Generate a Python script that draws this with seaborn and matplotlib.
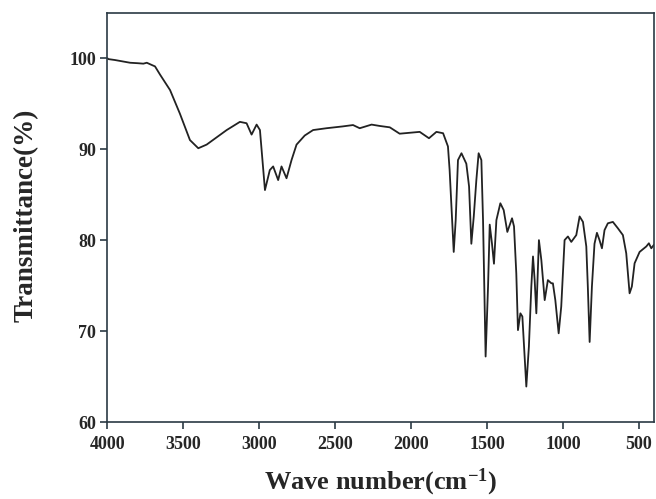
import matplotlib
matplotlib.use("Agg")
import matplotlib.pyplot as plt
import seaborn as sns
import pandas as pd

wavenumber = [4000, 3993, 3950, 3900, 3850, 3800, 3763, 3740, 3700, 3686, 3653, 3587, 3522, 3456, 3401, 3346,
              3214, 3127, 3083, 3050, 3017, 2995, 2962, 2930, 2908, 2875, 2853, 2820, 2787, 2754,
              2700, 2645, 2557, 2450, 2382, 2338, 2260, 2206, 2140, 2075, 1943, 1882, 1833, 1789,
              1757, 1746, 1734, 1719, 1706, 1691, 1668, 1636, 1618, 1603, 1587, 1570, 1555, 1537,
              1526, 1509, 1493, 1482, 1467, 1454, 1438, 1412, 1390, 1366, 1335, 1322, 1307, 1296,
              1280, 1267, 1241, 1224, 1208, 1197, 1186, 1175, 1158, 1142, 1120, 1099, 1076, 1066,
              1050, 1028, 1011, 989, 967, 945, 912, 890, 868, 846, 836, 824, 809, 792, 776, 759,
              743, 726, 704, 671, 638, 605, 583, 561, 546, 528, 495, 451, 434, 418, 400]
transmittance = [100.0, 99.9, 99.8, 99.65, 99.5, 99.45, 99.4, 99.5, 99.2, 99.1, 98.2, 96.5, 93.9, 91.0, 90.1, 90.5,
                 92.1, 93.0, 92.85, 91.6, 92.7, 92.1, 85.5, 87.7, 88.1, 86.6, 88.1, 86.8, 88.8, 90.5,
                 91.5, 92.1, 92.3, 92.5, 92.65, 92.3, 92.7, 92.55, 92.4, 91.7, 91.9, 91.2, 91.9, 91.75,
                 90.3, 87.7, 83.7, 78.7, 82.2, 88.8, 89.55, 88.4, 85.9, 79.6, 82.6, 86.6, 89.55, 88.8,
                 82.2, 67.2, 74.9, 81.7, 79.6, 77.4, 82.2, 84.05, 83.3, 80.9, 82.4, 81.5, 76.35, 70.1,
                 71.95, 71.6, 63.9, 68.3, 74.9, 78.2, 75.6, 71.95, 80.0, 77.8, 73.4, 75.6, 75.25, 75.25,
                 73.4, 69.75, 72.7, 80.0, 80.4, 79.8, 80.55, 82.6, 82.0, 79.3, 74.9, 68.8, 74.9, 79.6, 80.8, 80.0,
                 79.1, 81.1, 81.85, 82.0, 81.3, 80.55, 78.55, 74.15, 74.9, 77.45, 78.7, 79.3, 79.65, 79.1, 79.5]

x_ticks = [4000, 3500, 3000, 2500, 2000, 1500, 1000, 500]
y_ticks = [60, 70, 80, 90, 100]

sns.set_style("white")
plt.rcParams["font.family"] = ["Liberation Serif", "DejaVu Serif"]
plt.rcParams["font.weight"] = "bold"
plt.rcParams["mathtext.fontset"] = "custom"
plt.rcParams["mathtext.rm"] = "Liberation Serif:bold"
plt.rcParams["mathtext.bf"] = "Liberation Serif:bold"
plt.rcParams["mathtext.default"] = "bf"

df = pd.DataFrame({"wn": wavenumber, "T": transmittance})

fig = plt.figure(figsize=(6.56, 4.99), dpi=100)
ax = fig.add_axes([0.1636, 0.1543, 0.997 - 0.1636, 0.9745 - 0.1543])
sns.lineplot(data=df, x="wn", y="T", ax=ax, color="#222222", linewidth=1.3, sort=False)

ax.set_xlim(4000, 400)
ax.set_ylim(60, 105)
ax.set_xticks(x_ticks)
ax.set_yticks(y_ticks)
ax.set_xticklabels([str(t) for t in x_ticks], fontsize=13, fontweight="bold")
ax.set_yticklabels([str(t) for t in y_ticks], fontsize=13, fontweight="bold")
for s in ax.spines.values():
    s.set_color("#2b3a44")
    s.set_linewidth(1.2)
ax.tick_params(axis="both", direction="out", length=5, width=1.2, color="#2b3a44",
               bottom=True, left=True, top=False, right=False)
ax.tick_params(axis="x", pad=5)
ax.tick_params(axis="y", pad=3)
ax.set_xlabel("Wave number(cm$^{-1}$)", fontsize=19, fontweight="bold")
ax.set_ylabel("Transmittance(%)", fontsize=19.5, fontweight="bold")
ax.xaxis.set_label_coords(0.5, -0.11)
ax.yaxis.set_label_coords(-0.125, 0.505)

fig.savefig("out.png", dpi=100)
